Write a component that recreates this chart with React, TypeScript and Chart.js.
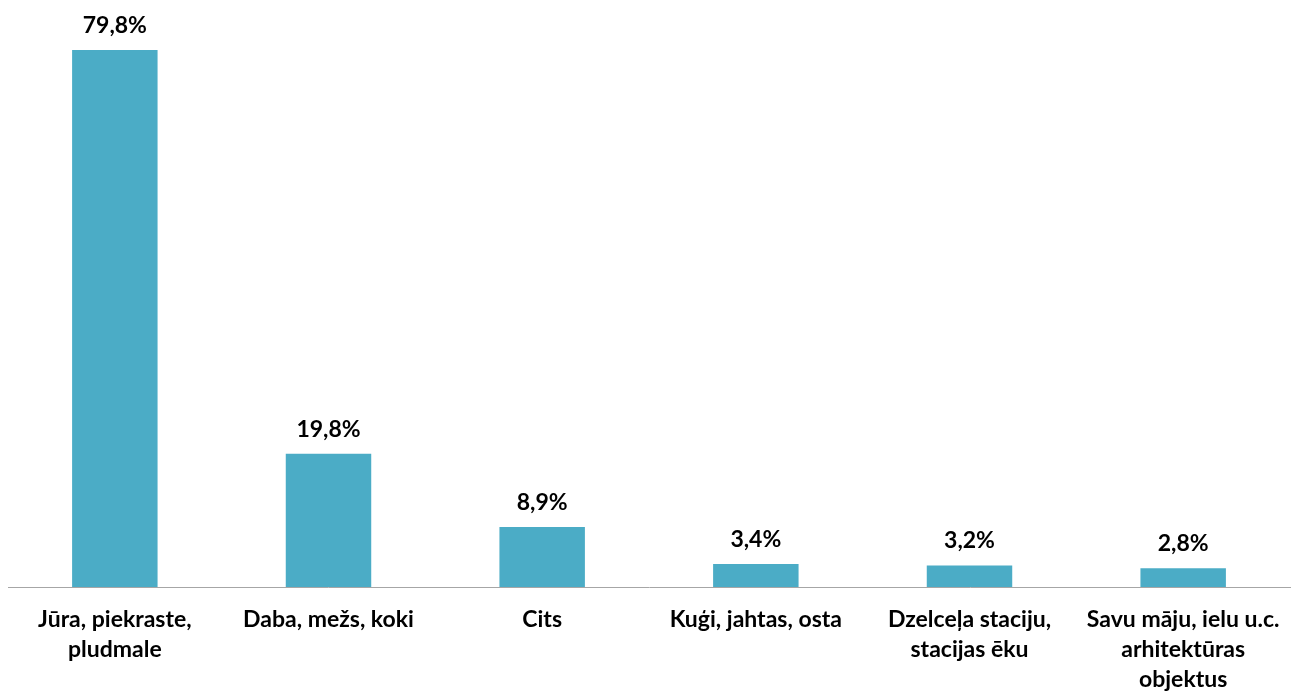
import React, { useEffect, useRef } from "react";
import { Chart, registerables } from "chart.js";

Chart.register(...registerables);

const categories: string[][] = [
  ["Jūra, piekraste,", "pludmale"],
  ["Daba, mežs, koki"],
  ["Cits"],
  ["Kuģi, jahtas, osta"],
  ["Dzelceļa staciju,", "stacijas ēku"],
  ["Savu māju, ielu u.c.", "arhitektūras", "objektus"],
];
const values: number[] = [79.8, 19.8, 8.9, 3.4, 3.2, 2.8];
const valueLabels: string[] = ["79,8%", "19,8%", "8,9%", "3,4%", "3,2%", "2,8%"];

const FONT = "Lato, 'Open Sans', sans-serif";

const labelPlugin = {
  id: "valueLabels",
  afterDatasetsDraw(chart: any) {
    const ctx = chart.ctx;
    const meta = chart.getDatasetMeta(0);
    ctx.save();
    ctx.font = `bold 23px ${FONT}`;
    ctx.fillStyle = "#000000";
    ctx.textAlign = "center";
    ctx.textBaseline = "alphabetic";
    meta.data.forEach((bar: any, i: number) => {
      ctx.fillText(valueLabels[i], bar.x, bar.y - 17);
    });
    ctx.restore();
  },
};

export default function App() {
  const ref = useRef<HTMLCanvasElement | null>(null);
  useEffect(() => {
    document.body.style.margin = "0";
    if (!ref.current) return;
    const chart = new Chart(ref.current, {
      type: "bar",
      data: {
        labels: categories,
        datasets: [
          {
            data: values,
            backgroundColor: "#4BACC6",
            borderWidth: 0,
            barPercentage: 0.4,
            categoryPercentage: 1,
          },
        ],
      },
      options: {
        animation: false,
        responsive: false,
        maintainAspectRatio: false,
        layout: { padding: { left: 8, right: 9, top: 15, bottom: -13 } },
        plugins: {
          legend: { display: false },
          tooltip: { enabled: false },
        },
        scales: {
          x: {
            grid: { display: false },
            border: { display: true, color: "#a6a6a6", width: 1 },
            ticks: {
              color: "#000000",
              padding: 10,
              maxRotation: 0,
              autoSkip: false,
              font: { family: FONT, size: 23, weight: "bold", lineHeight: "30px" },
            },
          },
          y: {
            display: false,
            min: 0,
            max: 85,
          },
        },
      },
      plugins: [labelPlugin],
    });
    return () => chart.destroy();
  }, []);
  return (
    <div style={{ width: 1299, height: 692 }}>
      <canvas ref={ref} width={1299} height={692} style={{ display: "block" }} />
    </div>
  );
}
